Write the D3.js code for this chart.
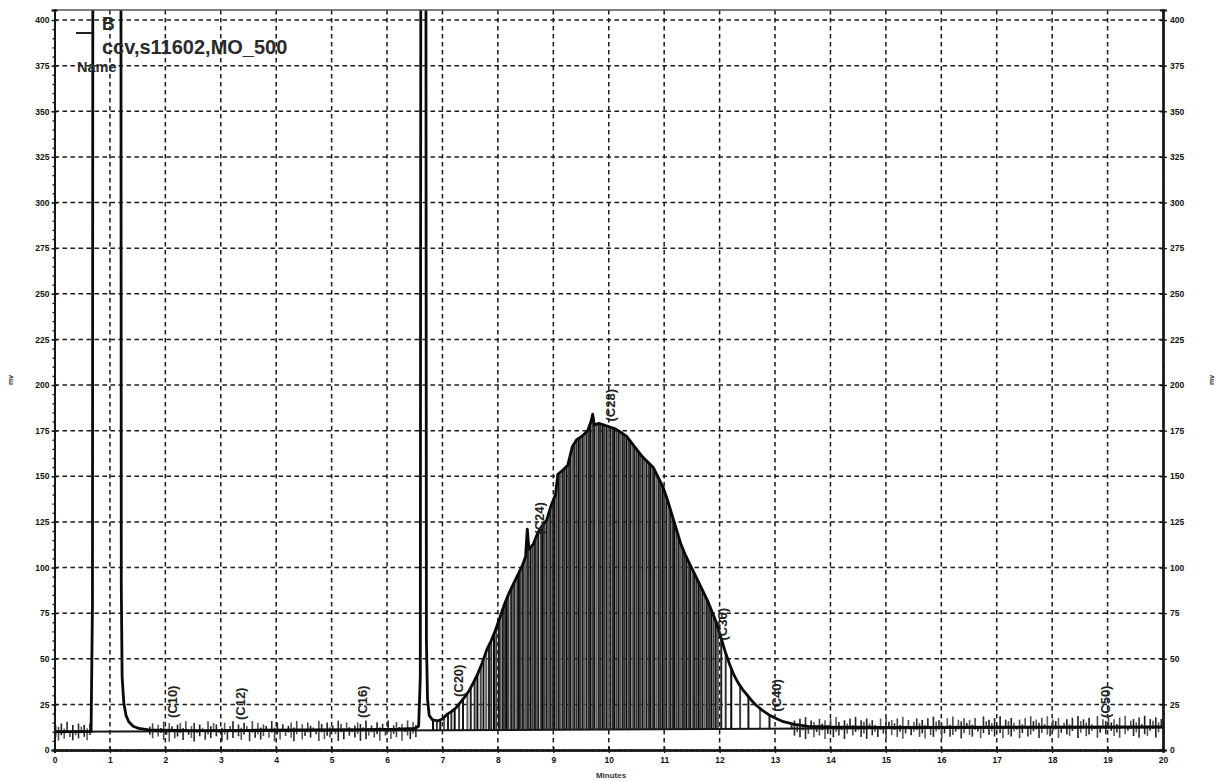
<!DOCTYPE html>
<html>
<head>
<meta charset="utf-8">
<script src="https://cdn.jsdelivr.net/npm/d3@7"></script>
<style>
  body { margin: 0; background: #fff; }
  svg { display: block; font-family: "Liberation Sans", Arial, sans-serif; }
</style>
</head>
<body>
<svg id="chart" width="1217" height="782"></svg>
<script>
// ---- detector trace: retention time (minutes) and response (mV) ----
const traceTime = [0.00, 0.30, 0.66, 0.685, 0.70, 1.19, 1.205, 1.22, 1.25, 1.29, 1.34, 1.42, 1.52, 1.70,
  2.50, 3.50, 4.50, 5.50, 6.20, 6.50, 6.57, 6.60, 6.62, 6.69, 6.71, 6.73, 6.76, 6.82, 6.92,
  7.00, 7.08, 7.16, 7.24, 7.32, 7.40, 7.48, 7.56, 7.64, 7.72, 7.80, 7.88, 7.96,
  8.04, 8.12, 8.20, 8.28, 8.36, 8.44, 8.50, 8.53, 8.56, 8.64, 8.72, 8.80, 8.88, 8.96,
  9.04, 9.08, 9.16, 9.26, 9.34, 9.42, 9.52, 9.62, 9.68, 9.71, 9.74, 9.82, 9.92,
  10.02, 10.12, 10.22, 10.32, 10.42, 10.52, 10.60, 10.70, 10.80, 10.90, 10.98,
  11.06, 11.14, 11.22, 11.30, 11.38, 11.46, 11.54, 11.62, 11.70, 11.78, 11.86, 11.94,
  12.02, 12.10, 12.18, 12.26, 12.34, 12.42, 12.50, 12.58, 12.66, 12.76, 12.88,
  13.00, 13.15, 13.35, 13.60, 14.00, 15.00, 17.00, 20.00];
const traceMv = [10.0, 10.1, 10.2, 80, 900, 900, 90, 40, 26, 19, 15.5, 13, 11.8, 11,
  10.6, 10.8, 11.0, 11.2, 11.4, 11.8, 13, 40, 900, 900, 60, 28, 19, 16.5, 16,
  17, 19.5, 21, 23, 26, 29, 32.5, 37, 42, 48, 55, 60, 66,
  73, 80, 86, 91, 96, 101, 106, 121, 110, 113, 119, 123, 126, 134,
  140, 151, 153, 156, 166, 170, 172, 175, 180, 184, 178, 179, 178,
  177, 176, 174, 172, 168, 164, 161, 158, 155, 149, 144,
  137, 129, 121, 113, 107, 102, 97, 92, 87, 82, 76, 70,
  62, 54, 47, 41, 36.5, 33, 30, 27, 24.5, 22, 19.5,
  17.5, 15.5, 14, 13, 12.6, 12.4, 12.5, 12.6];

// integration baseline (end points)
const baselineTime = [0, 20];
const baselineMv = [10, 12.5];

// integration drop lines (retention times, minutes)
const dropTimes = [6.83, 6.90, 6.96, 7.03, 7.10, 7.16, 7.22, 7.30, 7.37, 7.45, 7.51, 7.58, 7.63, 7.69,
  7.74, 7.79, 7.84, 7.88, 7.93, 7.97, 8.02, 8.05, 8.09, 8.13, 8.16, 8.19, 8.24, 8.27, 8.30, 8.35,
  8.38, 8.41, 8.45, 8.49, 8.53, 8.55, 8.59, 8.63, 8.67, 8.70, 8.73, 8.78, 8.81, 8.84, 8.88,
  8.92, 8.95, 8.99, 9.02, 9.06, 9.10, 9.13, 9.17, 9.20, 9.24, 9.28, 9.31, 9.35, 9.38, 9.42,
  9.46, 9.49, 9.53, 9.56, 9.60, 9.64, 9.67, 9.71, 9.74, 9.78, 9.82, 9.85, 9.89, 9.92, 9.96,
  9.99, 10.03, 10.07, 10.10, 10.14, 10.18, 10.21, 10.25, 10.28, 10.32, 10.36, 10.39, 10.43,
  10.46, 10.50, 10.54, 10.57, 10.61, 10.64, 10.68, 10.72, 10.75, 10.79, 10.82, 10.86, 10.90,
  10.93, 10.97, 11.00, 11.04, 11.08, 11.11, 11.15, 11.18, 11.22, 11.26, 11.29, 11.33, 11.36,
  11.40, 11.44, 11.47, 11.51, 11.54, 11.58, 11.62, 11.65, 11.69, 11.73, 11.77, 11.81, 11.85,
  11.89, 11.93, 11.97, 12.03, 12.11, 12.21, 12.37, 12.52, 12.73, 12.90, 13.30];

// baseline noise: spans (minutes) and per-tick excursions above / below baseline (digits, mV)
const noiseSpans = [[0.02, 0.64], [1.72, 6.52], [13.35, 19.97]];
const noiseUp = [
  "4352604153425",
  "3504261530452603514206354025136042530615243062514035260415320641523064152035426130524061352406153",
  "5362715406352617405362715463520617453627150463526174530627154635260174536271546305261745362715460352617453620715463526170453627154635"
];
const noiseDown = [
  "3524035241352",
  "2403152604315024613052403162504135206142530416250314620531402615340261503142605314260315240613524",
  "4251630524163052416304215360425136041526304215360452163054216304512630425136045216305421630452163045216305421630412536042153604521630"
];

// labelled n-alkane markers
const peakLabels = ["(C10)", "(C12)", "(C16)", "(C20)", "(C24)", "(C28)", "(C36)", "(C40)", "(C50)"];
const peakTimes = [2.13, 3.35, 5.55, 7.28, 8.75, 10.03, 12.05, 13.02, 18.97];
const peakMv = [17.5, 16.4, 17.5, 29, 118, 180, 60, 21, 17.5];

// axis ticks
const xTicks = [0, 1, 2, 3, 4, 5, 6, 7, 8, 9, 10, 11, 12, 13, 14, 15, 16, 17, 18, 19, 20];
const yTicks = [0, 25, 50, 75, 100, 125, 150, 175, 200, 225, 250, 275, 300, 325, 350, 375, 400];
const xTitle = "Minutes";
const yTitle = "mv";
const legendSeries = "B";
const legendSample = "ccv,s11602,MO_500";
const legendHeader = "Name";

// ---- layout ----
const svg = d3.select("#chart");
const X0 = 54.5, X1 = 1163, Y0 = 750, Y1 = 10;
const x = d3.scaleLinear().domain([0, 20]).range([X0, X1]);
const y = d3.scaleLinear().domain([0, 405.5]).range([Y0, Y1]);
const ink = "#161616";

svg.append("defs").append("clipPath").attr("id", "plotClip")
  .append("rect").attr("x", X0).attr("y", Y1).attr("width", X1 - X0).attr("height", Y0 - Y1);

// grid
const grid = svg.append("g").attr("stroke", "#1a1a1a").attr("stroke-width", 1.5)
  .attr("stroke-dasharray", "4.5,3.5");
grid.selectAll("line.v").data(xTicks.filter(d => d > 0 && d < 20)).join("line")
  .attr("x1", d => x(d)).attr("x2", d => x(d)).attr("y1", Y1).attr("y2", Y0);
grid.selectAll("line.h").data(yTicks.filter(d => d > 0)).join("line")
  .attr("x1", X0).attr("x2", X1).attr("y1", d => y(d)).attr("y2", d => y(d));

// helpers
const bis = d3.bisector(d => d).left;
function traceAt(t) {
  const i = Math.max(1, Math.min(traceTime.length - 1, bis(traceTime, t)));
  const t0 = traceTime[i - 1], t1 = traceTime[i];
  const f = (t - t0) / (t1 - t0);
  return traceMv[i - 1] + f * (traceMv[i] - traceMv[i - 1]);
}
const baseScale = d3.scaleLinear().domain(baselineTime).range(baselineMv);

const plot = svg.append("g").attr("clip-path", "url(#plotClip)");

// noise ticks
const noiseCols = ["#2a2a2a", "#4a4a4a", "#1e1e1e", "#5a5a5a"];
noiseSpans.forEach((span, k) => {
  const up = noiseUp[k], dn = noiseDown[k];
  const n = Math.max(up.length, dn.length);
  const pos = d3.scalePoint().domain(d3.range(n)).range(span);
  const ticks = d3.range(n).map(i => ({ t: pos(i), u: +(up[i] || 0) * 0.9, d: +(dn[i] || 0) * 0.95, i }));
  plot.append("g").selectAll("line").data(ticks).join("line")
    .attr("x1", d => x(d.t)).attr("x2", d => x(d.t))
    .attr("y1", d => y(baseScale(d.t) + d.u)).attr("y2", d => y(baseScale(d.t) - d.d))
    .attr("stroke", d => noiseCols[d.i % 4]).attr("stroke-width", 1.6);
});

// drop lines
const dropCols = ["#0a0a0a", "#404040", "#151515", "#5e5e5e", "#202020", "#333333"];
plot.append("g").selectAll("line").data(dropTimes).join("line")
  .attr("x1", d => x(d)).attr("x2", d => x(d))
  .attr("y1", d => y(baseScale(d))).attr("y2", d => y(traceAt(d)))
  .attr("stroke", (d, i) => dropCols[i % dropCols.length]).attr("stroke-width", 2);

// baseline
plot.append("line")
  .attr("x1", x(baselineTime[0])).attr("x2", x(baselineTime[1]))
  .attr("y1", y(baselineMv[0])).attr("y2", y(baselineMv[1]))
  .attr("stroke", ink).attr("stroke-width", 2);

// trace
const line = d3.line().x(d => x(d[0])).y(d => y(d[1]));
plot.append("path").datum(traceTime.map((t, i) => [t, traceMv[i]]))
  .attr("d", line).attr("fill", "none").attr("stroke", "#0a0a0a")
  .attr("stroke-width", 2.8).attr("stroke-linejoin", "round");

// peak labels
svg.append("g").selectAll("text").data(peakLabels).join("text")
  .attr("transform", (d, i) => `translate(${x(peakTimes[i])},${y(peakMv[i])}) rotate(-90)`)
  .attr("dy", "0.35em").attr("font-size", 13).attr("font-weight", "bold").attr("fill", "#222")
  .text(d => d);

// frame
svg.append("line").attr("x1", X0).attr("x2", X1).attr("y1", Y1).attr("y2", Y1)
  .attr("stroke", "#555").attr("stroke-width", 1.6);

// axes
function styleAxis(g) {
  g.select(".domain").attr("stroke", ink).attr("stroke-width", 2);
  g.selectAll(".tick line").attr("stroke", ink).attr("stroke-width", 1.3);
  g.selectAll("text").attr("font-size", 8.5).attr("font-weight", "bold").attr("fill", "#111")
    .attr("font-family", "Liberation Sans, Arial, sans-serif");
}
const minorY = d3.range(0, 405, 5);
const minorX = d3.range(0, 20.01, 0.1);

// left
svg.append("g").attr("transform", `translate(${X0},0)`)
  .call(d3.axisLeft(y).tickValues(minorY).tickSize(2).tickFormat("")).call(styleAxis);
svg.append("g").attr("transform", `translate(${X0},0)`)
  .call(d3.axisLeft(y).tickValues(yTicks).tickSize(3).tickPadding(2)).call(styleAxis);
svg.append("g").attr("transform", `translate(${X0},0)`)
  .call(d3.axisRight(y).tickValues(yTicks).tickSize(3).tickFormat("")).call(styleAxis);
// right
svg.append("g").attr("transform", `translate(${X1},0)`)
  .call(d3.axisRight(y).tickValues(minorY).tickSize(2).tickFormat("")).call(styleAxis);
svg.append("g").attr("transform", `translate(${X1},0)`)
  .call(d3.axisRight(y).tickValues(yTicks).tickSize(4).tickPadding(3)).call(styleAxis);
svg.append("g").attr("transform", `translate(${X1},0)`)
  .call(d3.axisLeft(y).tickValues(yTicks).tickSize(3).tickFormat("")).call(styleAxis);
// bottom
svg.append("g").attr("transform", `translate(0,${Y0})`)
  .call(d3.axisBottom(x).tickValues(minorX).tickSize(2).tickFormat("")).call(styleAxis);
svg.append("g").attr("transform", `translate(0,${Y0})`)
  .call(d3.axisBottom(x).tickValues(xTicks).tickSize(3).tickPadding(4)).call(styleAxis);
svg.append("g").attr("transform", `translate(0,${Y0})`)
  .call(d3.axisTop(x).tickValues(xTicks).tickSize(3).tickFormat("")).call(styleAxis);

// axis titles
svg.append("text").attr("x", 611).attr("y", 778).attr("text-anchor", "middle")
  .attr("font-size", 8).attr("font-weight", "bold").attr("fill", "#333").text(xTitle);
[11, 1212].forEach(px => {
  svg.append("text").attr("transform", `translate(${px},380) rotate(-90)`)
    .attr("text-anchor", "middle").attr("dy", "0.35em")
    .attr("font-size", 7).attr("font-weight", "bold").attr("fill", "#333").text(yTitle);
});

// legend
const lg = svg.append("g").attr("fill", "#2a2a2a").attr("font-weight", "bold");
lg.append("line").attr("x1", 76).attr("x2", 92).attr("y1", 33).attr("y2", 33)
  .attr("stroke", "#222").attr("stroke-width", 2);
lg.append("text").attr("x", 102).attr("y", 30).attr("font-size", 17.5).text(legendSeries);
lg.append("text").attr("x", 102).attr("y", 53.5).attr("font-size", 20).text(legendSample);
lg.append("text").attr("x", 77).attr("y", 72).attr("font-size", 14.5).text(legendHeader);
</script>
</body>
</html>
